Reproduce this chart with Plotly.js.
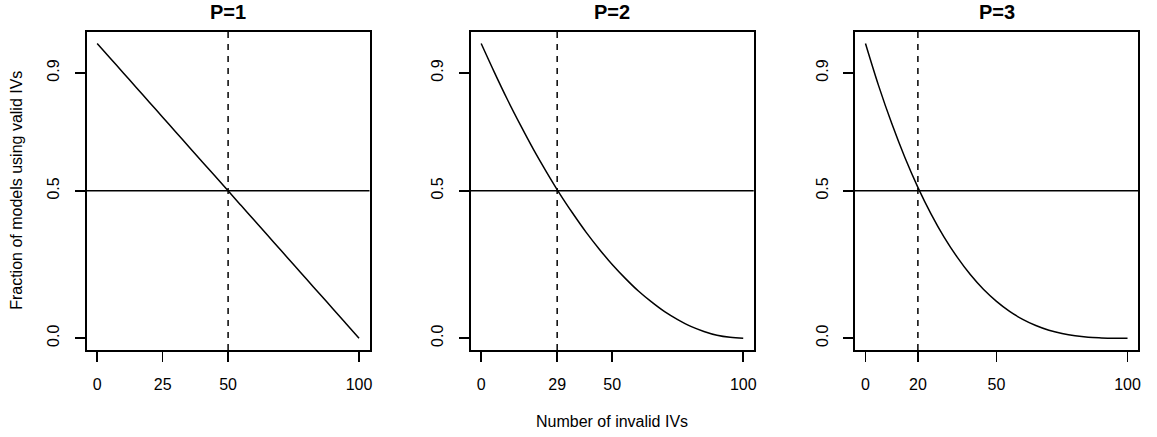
<!DOCTYPE html>
<html>
<head>
<meta charset="utf-8">
<script src="https://cdn.plot.ly/plotly-3.0.1.min.js"></script>
<style>
  html, body { margin: 0; padding: 0; background: #ffffff; }
  #chart { width: 1157px; height: 437px; }
</style>
</head>
<body>
<div id="chart"></div>
<script>
// ---- data ----
const invalidIVs = [0, 5, 10, 15, 20, 25, 30, 35, 40, 45, 50, 55, 60, 65, 70, 75, 80, 85, 90, 95, 100];
const fracP1 = [1.00, 0.95, 0.90, 0.85, 0.80, 0.75, 0.70, 0.65, 0.60, 0.55, 0.50, 0.45, 0.40, 0.35, 0.30, 0.25, 0.20, 0.15, 0.10, 0.05, 0.00];
const fracP2 = [1.000, 0.903, 0.810, 0.723, 0.640, 0.563, 0.490, 0.423, 0.360, 0.303, 0.250, 0.203, 0.160, 0.123, 0.090, 0.063, 0.040, 0.023, 0.010, 0.003, 0.000];
const fracP3 = [1.000, 0.857, 0.729, 0.614, 0.512, 0.422, 0.343, 0.275, 0.216, 0.166, 0.125, 0.091, 0.064, 0.043, 0.027, 0.016, 0.008, 0.003, 0.001, 0.000, 0.000];
const panelTitles = ["P=1", "P=2", "P=3"];
const cutoffs = [50, 29, 20];
const halfLine = 0.5;
const xTickVals = [[0, 25, 50, 100], [0, 29, 50, 100], [0, 20, 50, 100]];
const yTickVals = [0.0, 0.5, 0.9];
const yTickText = ["0.0", "0.5", "0.9"];
const xTitle = "Number of invalid IVs";
const yTitle = "Fraction of models using valid IVs";

// ---- layout geometry (pixels) ----
const W = 1157, H = 437;
const boxes = [[86.7, 369.5], [470.7, 753.7], [855, 1138]];
const boxTop = 31.7, boxBottom = 350;
const font = "Liberation Sans, Arial, Helvetica, sans-serif";
const series = [fracP1, fracP2, fracP3];

const traces = [];
const layout = {
  width: W, height: H,
  margin: {l: 0, r: 0, t: 0, b: 0, pad: 0},
  paper_bgcolor: "#ffffff", plot_bgcolor: "#ffffff",
  showlegend: false,
  font: {family: font, size: 16, color: "#000000"},
  shapes: [], annotations: []
};

for (let i = 0; i < 3; i++) {
  const sfx = i === 0 ? "" : String(i + 1);
  traces.push({
    type: "scatter", mode: "lines",
    x: invalidIVs, y: series[i],
    xaxis: "x" + sfx, yaxis: "y" + sfx,
    line: {color: "#000000", width: 1.5, shape: "spline", smoothing: 1},
    hoverinfo: "skip"
  });
  const common = {
    showgrid: false, zeroline: false,
    showline: true, mirror: true, linecolor: "#000000", linewidth: 2,
    ticks: "outside", ticklen: 10, tickwidth: 1.5, tickcolor: "#000000",
    tickfont: {family: font, size: 16, color: "#000000"},
    ticklabelstandoff: 9, fixedrange: true
  };
  layout["xaxis" + sfx] = Object.assign({}, common, {
    domain: [boxes[i][0] / W, boxes[i][1] / W],
    range: [-4, 104],
    tickmode: "array", tickvals: xTickVals[i], ticktext: xTickVals[i].map(String),
    anchor: "y" + sfx
  });
  layout["yaxis" + sfx] = Object.assign({}, common, {
    domain: [1 - boxBottom / H, 1 - boxTop / H],
    range: [-0.04, 1.04],
    tickmode: "array", tickvals: yTickVals, ticktext: yTickText,
    tickangle: -90,
    anchor: "x" + sfx
  });
  // horizontal reference line at 0.5
  layout.shapes.push({
    type: "line", xref: "x" + sfx + " domain", yref: "y" + sfx,
    x0: 0, x1: 1, y0: halfLine, y1: halfLine,
    line: {color: "#000000", width: 1.5}
  });
  // vertical dashed cutoff
  layout.shapes.push({
    type: "line", xref: "x" + sfx, yref: "y" + sfx + " domain",
    x0: cutoffs[i], x1: cutoffs[i], y0: 0, y1: 1,
    line: {color: "#000000", width: 1.5, dash: "6px,6px"}
  });
  // panel title
  layout.annotations.push({
    xref: "paper", yref: "paper",
    x: (boxes[i][0] + boxes[i][1]) / 2 / W, y: 1 - 12 / H,
    xanchor: "center", yanchor: "middle", showarrow: false,
    text: "<b>" + panelTitles[i] + "</b>",
    font: {family: font, size: 20, color: "#000000"}
  });
}

layout.annotations.push({
  xref: "paper", yref: "paper",
  x: (boxes[1][0] + boxes[1][1]) / 2 / W, y: 1 - 421 / H,
  xanchor: "center", yanchor: "middle", showarrow: false,
  text: xTitle, font: {family: font, size: 16, color: "#000000"}
});
layout.annotations.push({
  xref: "paper", yref: "paper",
  x: 17 / W, y: 1 - ((boxTop + boxBottom) / 2) / H,
  xanchor: "center", yanchor: "middle", showarrow: false, textangle: -90,
  text: yTitle, font: {family: font, size: 16, color: "#000000"}
});

Plotly.newPlot("chart", traces, layout, {displayModeBar: false, staticPlot: true});
</script>
</body>
</html>
